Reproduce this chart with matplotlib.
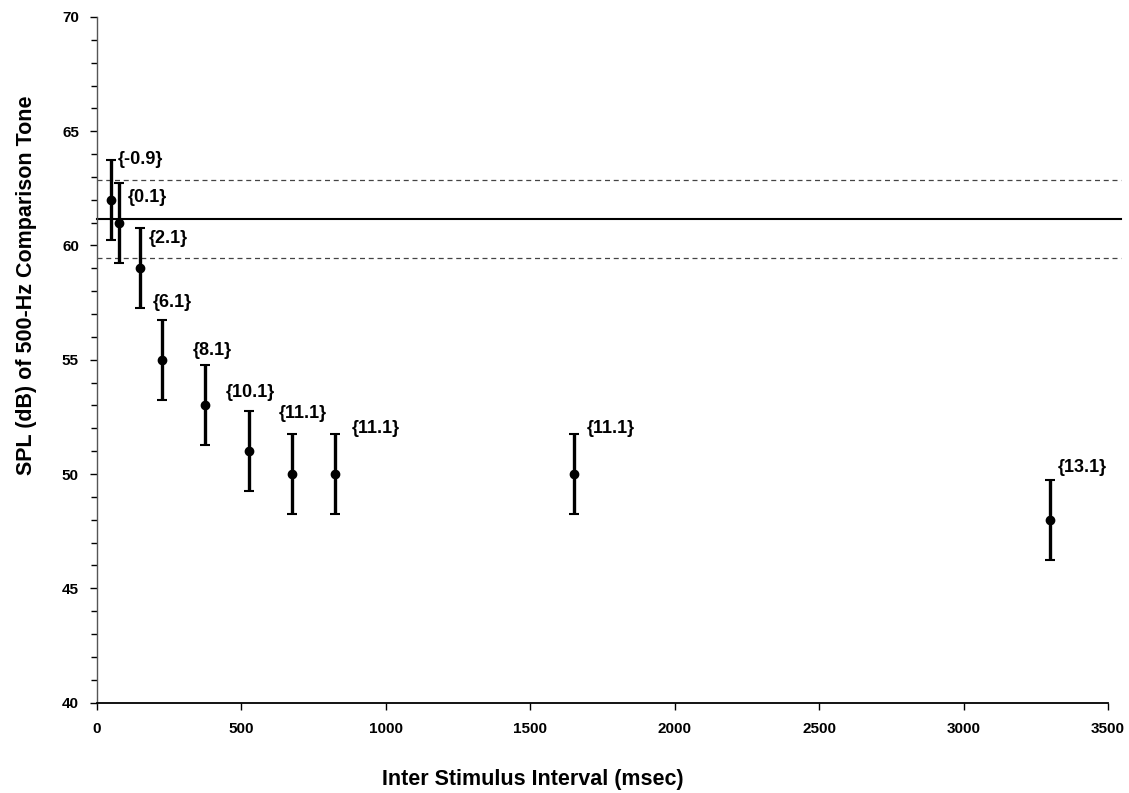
import matplotlib
matplotlib.use("Agg")
import matplotlib.pyplot as plt
from matplotlib.ticker import MultipleLocator

plt.rcParams['font.family'] = ['Liberation Sans', 'DejaVu Sans']
plt.rcParams['font.weight'] = 'bold'

isi = [50, 75, 150, 225, 375, 525, 675, 825, 1650, 3300]
spl = [62, 61, 59, 55, 53, 51, 50, 50, 50, 48]
err = [1.75] * 10
labels = ["{-0.9}", "{0.1}", "{2.1}", "{6.1}", "{8.1}", "{10.1}",
          "{11.1}", "{11.1}", "{11.1}", "{13.1}"]
# label offsets (pixels) from top of each error bar
label_dx = [6, 9, 8, -9, -13, -23, -13, 16, 13, 8]
label_dy = [0, -15, -10, 17, 15, 19, 21, 6, 6, 12]

ref_mean = 61.15
ref_upper = 62.85
ref_lower = 59.45

fig = plt.figure(figsize=(11.29, 7.93), dpi=100)
ax = fig.add_axes([0.0859, 0.1141, 0.9814 - 0.0859, 0.9786 - 0.1141])

ax.plot([0, 3545], [ref_mean, ref_mean], color='black', lw=1.5, clip_on=False, zorder=2)
ax.plot([0, 3545], [ref_upper, ref_upper], color='#444444', lw=0.9, ls=(0, (4, 3)), clip_on=False, zorder=2)
ax.plot([0, 3545], [ref_lower, ref_lower], color='#444444', lw=0.9, ls=(0, (4, 3)), clip_on=False, zorder=2)

ax.errorbar(isi, spl, yerr=err, fmt='o', color='black', ms=6, elinewidth=2.4,
            capsize=3.5, capthick=1.5, zorder=3)

for x, y, e, t, dx, dy in zip(isi, spl, err, labels, label_dx, label_dy):
    ax.annotate(t, (x, y + e), xytext=(dx, dy), textcoords='offset pixels',
                ha='left', va='center', fontsize=13, fontweight='bold')

ax.set_xlim(0, 3500)
ax.set_ylim(40, 70)
ax.xaxis.set_major_locator(MultipleLocator(500))
ax.yaxis.set_major_locator(MultipleLocator(5))
ax.yaxis.set_minor_locator(MultipleLocator(1))

for s in ['top', 'right']:
    ax.spines[s].set_visible(False)
ax.spines['bottom'].set_linewidth(1.3)
ax.spines['left'].set_linewidth(1.0)
ax.spines['left'].set_color('#555555')

ax.tick_params(axis='both', which='major', direction='out', length=5, width=1,
               labelsize=11, pad=9)
ax.tick_params(axis='y', which='major', pad=8)
ax.tick_params(axis='y', which='minor', direction='out', length=4, width=1)
for lab in ax.get_xticklabels() + ax.get_yticklabels():
    lab.set_fontweight('bold')

ax.set_xlabel('Inter Stimulus Interval (msec)', fontsize=15.5, fontweight='bold')
ax.set_ylabel('SPL (dB) of 500-Hz Comparison Tone', fontsize=15.5, fontweight='bold')
# place labels as in reference (pixel coordinates converted to axes fractions)
ax.xaxis.set_label_coords((533 - 97) / (1108 - 97), -(769 - 702.5) / (702.5 - 17))
ax.yaxis.set_label_coords(-(97 - 37) / (1108 - 97), (702.5 - 285) / (702.5 - 17))

fig.savefig('out.png', dpi=100)
